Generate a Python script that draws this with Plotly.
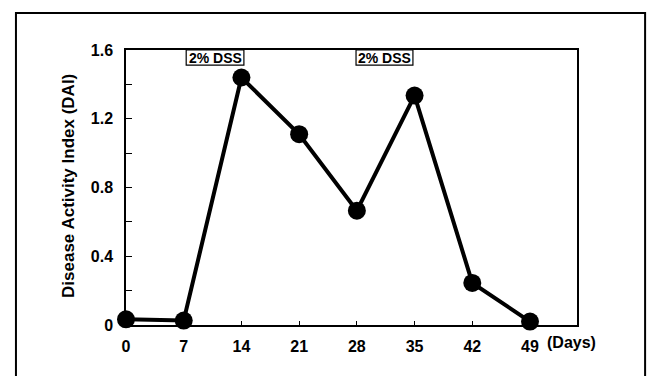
import plotly.graph_objects as go

days = [0, 7, 14, 21, 28, 35, 42, 49]
dai = [0.033, 0.026, 1.44, 1.11, 0.665, 1.335, 0.245, 0.02]
x_tick_labels = ["0", "7", "14", "21", "28", "35", "42", "49"]
y_tick_vals = [0, 0.4, 0.8, 1.2, 1.6]
y_tick_labels = ["0", "0.4", "0.8", "1.2", "1.6"]
dss_start = [7.3, 27.9]
dss_end = [14.3, 34.8]
dss_labels = ["2% DSS", "2% DSS"]

FONT = "Liberation Sans Narrow, Liberation Sans, Arial, sans-serif"
BOLD = "Liberation Sans, Arial, sans-serif"

fig = go.Figure()
fig.add_trace(go.Scatter(
    x=days, y=dai, mode="lines+markers",
    line=dict(color="black", width=4),
    marker=dict(color="black", size=18),
    cliponaxis=False, showlegend=False,
))

shapes = []
annotations = []
for s, e, lab in zip(dss_start, dss_end, dss_labels):
    shapes.append(dict(type="rect", xref="x", yref="paper", x0=s, x1=e,
                       y0=0.945, y1=1.0, line=dict(color="black", width=1.2),
                       fillcolor="white", layer="below"))
    annotations.append(dict(x=(s + e) / 2, y=0.9725, xref="x", yref="paper",
                            text=lab, showarrow=False, xanchor="center",
                            yanchor="middle",
                            font=dict(family=BOLD, size=14,
                                      color="black", weight="bold")))

# outer frame of the figure
shapes.append(dict(type="rect", xref="paper", yref="paper",
                   x0=-0.244, x1=1.151, y0=-0.3, y1=1.135,
                   line=dict(color="black", width=2), fillcolor="rgba(0,0,0,0)"))

annotations.append(dict(x=-0.129, y=0.505, xref="paper", yref="paper",
                        text="Disease Activity Index (DAI)", textangle=-90,
                        showarrow=False, xanchor="center", yanchor="middle",
                        font=dict(family=BOLD, size=17,
                                  color="black", weight="bold")))
annotations.append(dict(x=54.0, y=-0.065, xref="x", yref="paper",
                        text="(Days)", showarrow=False, xanchor="center",
                        yanchor="middle",
                        font=dict(family=BOLD, size=16,
                                  color="black", weight="bold")))

fig.update_layout(
    width=651, height=376,
    margin=dict(l=126, r=74, t=50, b=51),
    paper_bgcolor="white", plot_bgcolor="white",
    shapes=shapes, annotations=annotations,
    xaxis=dict(range=[0, 54.7], tickvals=days, ticktext=x_tick_labels,
               ticks="inside", ticklen=4, tickcolor="black", tickwidth=1,
               showline=True, linecolor="black", linewidth=1.5, mirror=True,
               showgrid=False, zeroline=False, ticklabelstandoff=6,
               tickfont=dict(family=FONT, size=16, color="black", weight="bold")),
    yaxis=dict(range=[0, 1.6], tickvals=y_tick_vals, ticktext=y_tick_labels,
               ticks="inside", ticklen=6, tickcolor="black", tickwidth=1.2,
               minor=dict(tickvals=[0.2, 0.6, 1.0, 1.4], ticks="inside",
                          ticklen=6, tickcolor="black", tickwidth=1.2),
               showline=True, linecolor="black", linewidth=1.5, mirror=True,
               showgrid=False, zeroline=False, ticklabelstandoff=8,
               tickfont=dict(family=BOLD, size=16,
                             color="black", weight="bold")),
)

fig.write_html("out.html", config={"displayModeBar": False},
               post_script="document.body.style.margin='0px';")
